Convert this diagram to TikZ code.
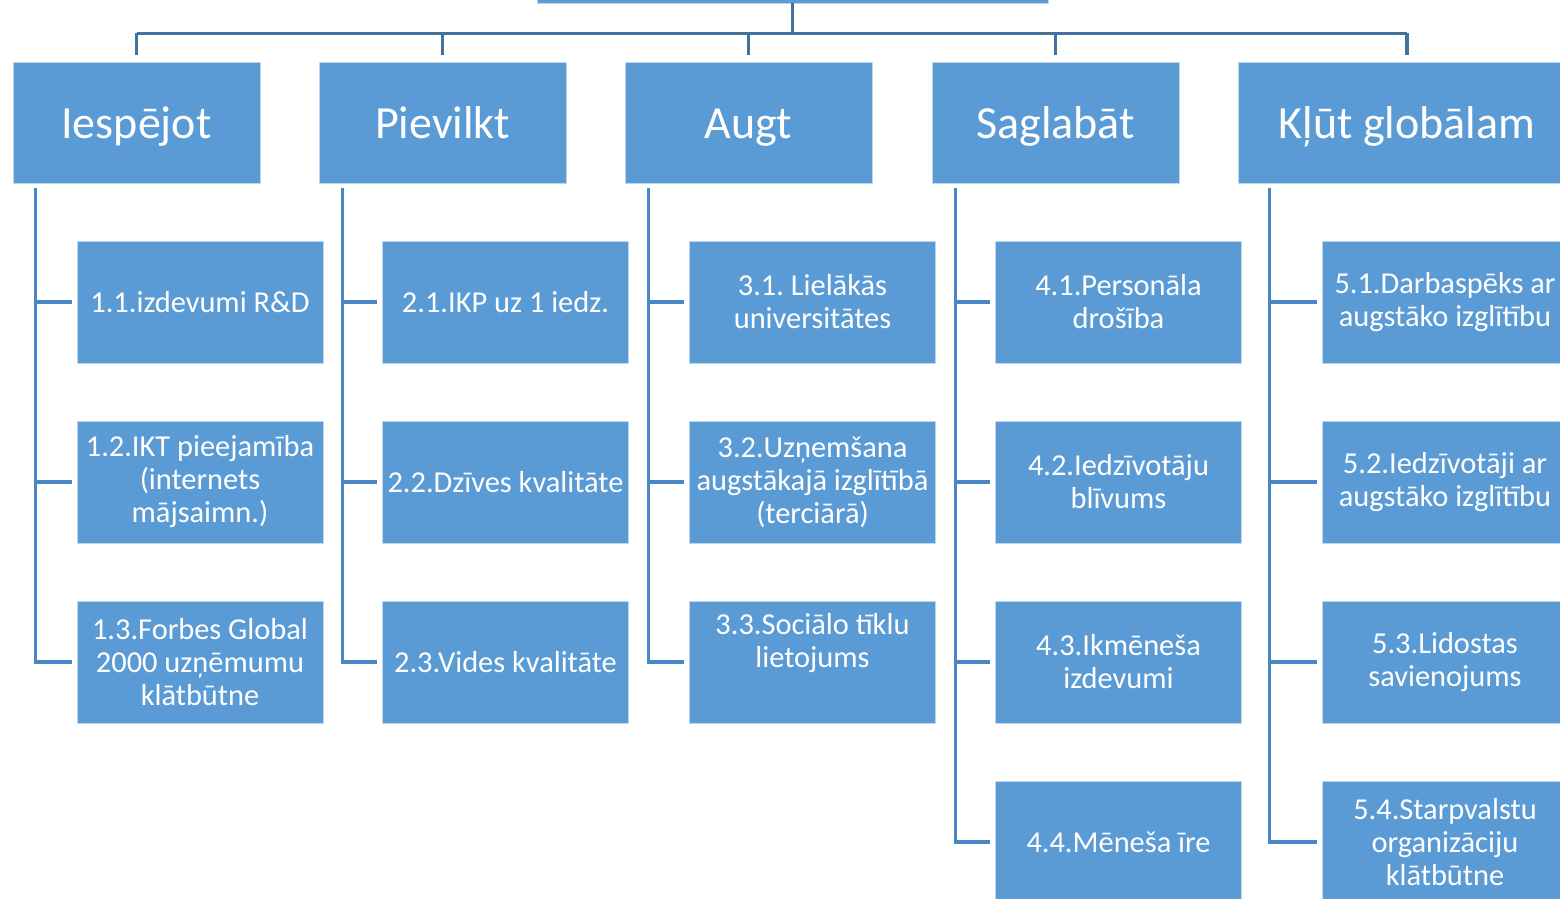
\documentclass[tikz,border=0pt]{standalone}
\usepackage{fontspec}
\setmainfont{Carlito}
\frenchspacing
\usetikzlibrary{positioning}
\definecolor{boxblue}{HTML}{5B9BD5}
\definecolor{busblue}{HTML}{41719C}
\definecolor{trunkblue}{HTML}{4A86C4}
\tikzset{
  head/.style={fill=boxblue, draw=white!60!boxblue, line width=0.4pt, text=white,
    minimum width=123.5pt, minimum height=60.5pt, inner sep=0pt,
    text height=18pt, text depth=1.5pt,
    font=\fontsize{23}{28}\selectfont},
  leaf/.style={fill=boxblue, draw=white!60!boxblue, line width=0.4pt, text=white,
    minimum width=123pt, minimum height=61pt, inner sep=0pt, align=center,
    font=\fontsize{15.2}{16.5}\selectfont},
  bus/.style={draw=busblue, line width=1.8pt},
  trunk/.style={draw=trunkblue, line width=1.8pt}
}

\begin{document}
\begin{tikzpicture}[x=0.5pt,y=-0.5pt]
\useasboundingbox (0,0) rectangle (1560,899);
\clip (0,0) rectangle (1560,899);
% top
\node[head, minimum width=255.5pt] (top) at (792.5,-57.5) {};
% headers
\node[head] (h1) at (136.5,122.5) {Iespējot};
\node[head] (h2) at (442.5,122.5) {Pievilkt};
\node[head] (h3) at (748.5,122.5) {Augt};
\node[head] (h4) at (1055.5,122.5) {Saglabāt};
\node[head, minimum width=169pt] (h5) at (1407,122.5) {Kļūt globālam};
% column 1
\node[leaf] (c11) at (200,302) {1.1.izdevumi R\&D};
\node[leaf] (c12) at (200,482) {1.2.IKT pieejamība\\(internets\\mājsaimn.)};
\node[leaf] (c13) at (200,662) {1.3.Forbes Global\\2000 uzņēmumu\\klātbūtne};
% column 2
\node[leaf] (c21) at (505.5,302) {2.1.IKP uz 1 iedz.};
\node[leaf] (c22) at (505.5,482) {2.2.Dzīves kvalitāte};
\node[leaf] (c23) at (505.5,662) {2.3.Vides kvalitāte};
% column 3
\node[leaf] (c31) at (812.5,302) {3.1. Lielākās\\universitātes};
\node[leaf] (c32) at (812.5,482) {3.2.Uzņemšana\\augstākajā izglītībā\\(terciārā)};
\node[leaf] (c33) at (812.5,662) {3.3.Sociālo tīklu\\lietojums\\\strut};
% column 4
\node[leaf] (c41) at (1118.5,302) {4.1.Personāla\\drošība};
\node[leaf] (c42) at (1118.5,482) {4.2.Iedzīvotāju\\blīvums};
\node[leaf] (c43) at (1118.5,662) {4.3.Ikmēneša\\izdevumi};
\node[leaf] (c44) at (1118.5,842) {4.4.Mēneša īre};
% column 5
\node[leaf] (c51) at (1445,302) {5.1.Darbaspēks ar\\augstāko izglītību};
\node[leaf] (c52) at (1445,482) {5.2.Iedzīvotāji ar\\augstāko izglītību};
\node[leaf] (c53) at (1445,662) {5.3.Lidostas\\savienojums};
\node[leaf] (c54) at (1445,842) {5.4.Starpvalstu\\organizāciju\\klātbūtne};
% bus
\draw[bus] (top.south) -- ++(0,30) coordinate (hub);
\draw[bus] (h1.north |- hub) -- (h5.north |- hub);
\draw[bus] (h1.north |- hub) -- ([yshift=3.5pt]h1.north);
\draw[bus] (h2.north |- hub) -- ([yshift=3.5pt]h2.north);
\draw[bus] (h3.north |- hub) -- ([yshift=3.5pt]h3.north);
\draw[bus] (h4.north |- hub) -- ([yshift=3.5pt]h4.north);
\draw[bus] (h5.north |- hub) -- ([yshift=3.5pt]h5.north);
% trunks
\draw[trunk] ([xshift=11.5pt,yshift=-2.5pt]h1.south west) |- ([xshift=-2.5pt]c11.west);
\draw[trunk] ([xshift=11.5pt,yshift=-2.5pt]h1.south west) |- ([xshift=-2.5pt]c12.west);
\draw[trunk] ([xshift=11.5pt,yshift=-2.5pt]h1.south west) |- ([xshift=-2.5pt]c13.west);
\draw[trunk] ([xshift=12pt,yshift=-2.5pt]h2.south west) |- ([xshift=-2.5pt]c21.west);
\draw[trunk] ([xshift=12pt,yshift=-2.5pt]h2.south west) |- ([xshift=-2.5pt]c22.west);
\draw[trunk] ([xshift=12pt,yshift=-2.5pt]h2.south west) |- ([xshift=-2.5pt]c23.west);
\draw[trunk] ([xshift=12pt,yshift=-2.5pt]h3.south west) |- ([xshift=-2.5pt]c31.west);
\draw[trunk] ([xshift=12pt,yshift=-2.5pt]h3.south west) |- ([xshift=-2.5pt]c32.west);
\draw[trunk] ([xshift=12pt,yshift=-2.5pt]h3.south west) |- ([xshift=-2.5pt]c33.west);
\draw[trunk] ([xshift=12pt,yshift=-2.5pt]h4.south west) |- ([xshift=-2.5pt]c41.west);
\draw[trunk] ([xshift=12pt,yshift=-2.5pt]h4.south west) |- ([xshift=-2.5pt]c42.west);
\draw[trunk] ([xshift=12pt,yshift=-2.5pt]h4.south west) |- ([xshift=-2.5pt]c43.west);
\draw[trunk] ([xshift=12pt,yshift=-2.5pt]h4.south west) |- ([xshift=-2.5pt]c44.west);
\draw[trunk] ([xshift=16pt,yshift=-2.5pt]h5.south west) |- ([xshift=-2.5pt]c51.west);
\draw[trunk] ([xshift=16pt,yshift=-2.5pt]h5.south west) |- ([xshift=-2.5pt]c52.west);
\draw[trunk] ([xshift=16pt,yshift=-2.5pt]h5.south west) |- ([xshift=-2.5pt]c53.west);
\draw[trunk] ([xshift=16pt,yshift=-2.5pt]h5.south west) |- ([xshift=-2.5pt]c54.west);
\end{tikzpicture}
\end{document}
